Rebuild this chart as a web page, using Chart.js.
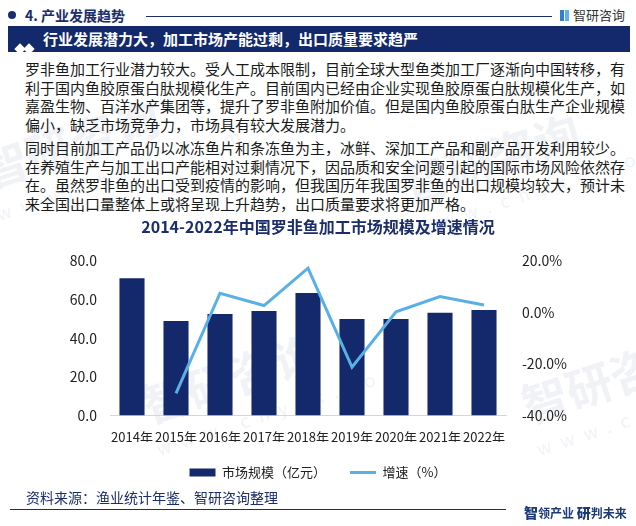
<!DOCTYPE html>
<html lang="zh-CN">
<head>
<meta charset="utf-8">
<title>罗非鱼加工市场规模</title>
<script src="https://cdn.jsdelivr.net/npm/chart.js@4.4.1/dist/chart.umd.min.js"></script>
<style>
  html, body { margin: 0; padding: 0; background: #fff; }
  body { width: 636px; height: 526px; position: relative; overflow: hidden; font-family: "Noto Sans CJK SC", "Noto Sans", sans-serif; color: #1a1a1a; }
  .cabecera-punto { position: absolute; left: 8px; top: 11px; width: 8px; height: 8px; border-radius: 50%; background: #1b2d6b; }
  .cabecera-titulo { position: absolute; left: 25px; top: 5px; font-size: 14px; font-weight: bold; color: #1b2d6b; line-height: 20px; }
  .cabecera-linea { position: absolute; left: 146px; top: 16px; width: 406px; height: 1px; background: #1b2d6b; }
  .logo { position: absolute; left: 560px; top: 5px; font-size: 13px; color: #333; line-height: 20px; }
  .logo i { display: inline-block; width: 9px; height: 11px; margin-right: 4px; vertical-align: -1px; background: linear-gradient(90deg, #2f7fd0 0 45%, transparent 45% 55%, #5fb1ea 55%); }
  .banda { position: absolute; left: 8px; top: 26px; width: 622px; height: 26px; background: #13296b; }
  .banda .rombos { position: absolute; left: 8px; top: 8px; }
  .banda .rombos span { display: inline-block; width: 8px; height: 8px; background: #fff; transform: rotate(45deg); margin-right: 1px; }
  .banda .texto { position: absolute; left: 35px; top: 0; line-height: 26px; font-size: 15px; font-weight: bold; color: #fff; }
  .parrafo { position: absolute; left: 25px; width: 584px; font-size: 15px; line-height: 18.5px; }
  .parrafo div { text-align: justify; text-align-last: justify; white-space: nowrap; }
  .parrafo div.ultima { text-align-last: left; }
  .grafico { position: absolute; left: 0; top: 212px; width: 636px; height: 277px; }
  .fuente { position: absolute; left: 26px; top: 487px; font-size: 14px; color: #1b2d6b; line-height: 20px; }
  .pie-linea { position: absolute; left: 10px; top: 509px; width: 496px; height: 1px; background: #1b2d6b; }
  .lema { position: absolute; left: 524px; top: 503px; font-size: 12px; font-weight: bold; color: #1b3a7a; line-height: 18px; }
  .lema b { font-size: 14px; }
  .marca { position: absolute; color: rgba(190, 200, 218, 0.22); font-size: 46px; font-weight: bold; transform: rotate(-18deg); white-space: nowrap; pointer-events: none; }
  .marca small { display: block; font-size: 18px; letter-spacing: 10px; font-weight: normal; }
</style>
</head>
<body>
  <div class="marca" style="left:-20px; top:95px;">智研咨询<small>www.chyxx.com</small></div>
  <div class="marca" style="left:400px; top:110px;">智研咨询<small>www.chyxx.com</small></div>
  <div class="marca" style="left:140px; top:330px;">智研咨询<small>www.chyxx.com</small></div>
  <div class="marca" style="left:520px; top:330px;">智研咨询<small>www.chyxx.com</small></div>

  <div class="cabecera-punto"></div>
  <div class="cabecera-titulo">4. 产业发展趋势</div>
  <div class="cabecera-linea"></div>
  <div class="logo"><i></i>智研咨询</div>

  <div class="banda">
    <div class="rombos"><span></span><span></span></div>
    <div class="texto">行业发展潜力大，加工市场产能过剩，出口质量要求趋严</div>
  </div>

  <div class="parrafo" style="top:60px;">
    <div>罗非鱼加工行业潜力较大。受人工成本限制，目前全球大型鱼类加工厂逐渐向中国转移，有</div>
    <div>利于国内鱼胶原蛋白肽规模化生产。目前国内已经由企业实现鱼胶原蛋白肽规模化生产，如</div>
    <div>嘉盈生物、百洋水产集团等，提升了罗非鱼附加价值。但是国内鱼胶原蛋白肽生产企业规模</div>
    <div class="ultima">偏小，缺乏市场竞争力，市场具有较大发展潜力。</div>
  </div>
  <div class="parrafo" style="top:139px;">
    <div>同时目前加工产品仍以冰冻鱼片和条冻鱼为主，冰鲜、深加工产品和副产品开发利用较少。</div>
    <div>在养殖生产与加工出口产能相对过剩情况下，因品质和安全问题引起的国际市场风险依然存</div>
    <div>在。虽然罗非鱼的出口受到疫情的影响，但我国历年我国罗非鱼的出口规模均较大，预计未</div>
    <div class="ultima">来全国出口量整体上或将呈现上升趋势，出口质量要求将更加严格。</div>
  </div>

  <div class="grafico"><canvas id="chartRofi"></canvas></div>

  <div class="fuente">资料来源：渔业统计年鉴、智研咨询整理</div>
  <div class="pie-linea"></div>
  <div class="lema"><b>智</b>领产业 <b>研</b>判未来</div>

<script>
const anios = ['2014年', '2015年', '2016年', '2017年', '2018年', '2019年', '2020年', '2021年', '2022年'];
const mercado = [71.1, 48.9, 52.6, 54.1, 63.4, 50.0, 50.0, 53.2, 54.6];
const crecimiento = [null, -31.4, 7.5, 2.7, 17.2, -21.2, 0.3, 6.2, 2.9];
const escalaIzq = [0, 20, 40, 60, 80];
const escalaDer = [-40, -20, 0, 20];

const colorBarras = '#13296b';
const colorLinea = '#5aafe6';
const fuente = '"Noto Sans CJK SC", "Noto Sans", sans-serif';

function crearGrafico() {
    const ctx = document.getElementById('chartRofi');
    return new Chart(ctx, {
        data: {
            labels: anios,
            datasets: [
                {
                    type: 'line',
                    label: '增速（%）',
                    data: crecimiento,
                    yAxisID: 'y1',
                    borderColor: colorLinea,
                    backgroundColor: colorLinea,
                    borderWidth: 3,
                    pointRadius: 0,
                    tension: 0,
                    order: 0
                },
                {
                    type: 'bar',
                    label: '市场规模（亿元）',
                    data: mercado,
                    yAxisID: 'y',
                    backgroundColor: colorBarras,
                    barPercentage: 0.57,
                    categoryPercentage: 1,
                    order: 1
                }
            ]
        },
        options: {
            responsive: true,
            maintainAspectRatio: false,
            animation: false,
            layout: { padding: 0 },
            plugins: {
                tooltip: { enabled: false },
                title: {
                    display: true,
                    text: '2014-2022年中国罗非鱼加工市场规模及增速情况',
                    color: '#1b2d6b',
                    font: { family: fuente, size: 16, weight: 'bold' },
                    padding: { top: 5, bottom: 24.8 }
                },
                legend: {
                    position: 'bottom',
                    labels: {
                        usePointStyle: true,
                        pointStyleWidth: 26,
                        boxHeight: 8,
                        padding: 24,
                        color: '#222',
                        font: { family: fuente, size: 13 },
                        generateLabels: () => [
                            { text: '市场规模（亿元）', fillStyle: colorBarras, strokeStyle: colorBarras, lineWidth: 0, pointStyle: 'rect', datasetIndex: 1, fontColor: '#222' },
                            { text: '增速（%）', fillStyle: colorLinea, strokeStyle: colorLinea, lineWidth: 3, pointStyle: 'line', datasetIndex: 0, fontColor: '#222' }
                        ]
                    }
                }
            },
            scales: {
                x: {
                    grid: { display: false, drawTicks: false },
                    border: { display: true, color: '#d6d6d6', width: 1 },
                    ticks: { color: '#222', font: { family: fuente, size: 13 }, padding: 14, maxRotation: 0, autoSkip: false },
                    afterFit: s => { s.height = 26.5; }
                },
                y: {
                    position: 'left',
                    min: escalaIzq[0],
                    max: escalaIzq[escalaIzq.length - 1],
                    grid: { display: false, drawTicks: false },
                    border: { display: false },
                    ticks: { stepSize: 20, padding: 13, color: '#222', font: { family: fuente, size: 14 }, callback: v => v.toFixed(1) },
                    afterFit: s => { s.width = 110; }
                },
                y1: {
                    position: 'right',
                    min: escalaDer[0],
                    max: escalaDer[escalaDer.length - 1],
                    grid: { display: false, drawTicks: false },
                    border: { display: false },
                    ticks: { stepSize: 20, padding: 16, color: '#222', font: { family: fuente, size: 14 }, callback: v => v.toFixed(1) + '%' },
                    afterFit: s => { s.width = 130; }
                }
            }
        }
    });
}

crearGrafico();
</script>
</body>
</html>
